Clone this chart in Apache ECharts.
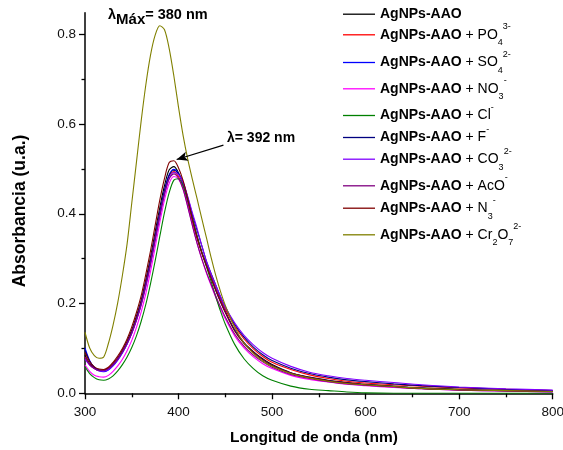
<!DOCTYPE html>
<html>
<head>
<meta charset="utf-8">
<script src="https://cdn.jsdelivr.net/npm/echarts@6/dist/echarts.min.js"></script>
<style>
html,body{margin:0;padding:0;background:#fff;}
#chart{width:563px;height:450px;}
</style>
</head>
<body>
<div id="chart"></div>
<script>
// Wavelengths (nm)
var wavelengths = [300,305,310,315,320,325,330,335,340,345,350,355,360,365,370,375,380,385,390,395,400,405,410,415,420,425,430,435,440,445,450,460,470,480,490,500,520,540,560,580,600,630,660,700,750,800];

// Absorbance series (u.a.)
var agnps = [.085,.066,.056,.051,.051,.056,.066,.079,.096,.116,.141,.172,.207,.253,.303,.359,.414,.463,.498,.505,.491,.465,.424,.382,.344,.313,.286,.258,.230,.205,.182,.141,.113,.093,.077,.064,.046,.036,.029,.024,.020,.016,.012,.009,.006,.004];
var po4 = [.081,.064,.055,.051,.051,.056,.065,.078,.094,.113,.137,.167,.202,.246,.295,.349,.403,.451,.485,.494,.483,.460,.422,.382,.346,.313,.286,.259,.233,.209,.187,.150,.121,.099,.082,.069,.053,.041,.033,.027,.023,.019,.016,.012,.009,.006];
var so4 = [.101,.073,.057,.050,.048,.052,.061,.074,.090,.110,.134,.164,.199,.243,.292,.347,.402,.452,.487,.499,.490,.467,.428,.387,.349,.314,.284,.256,.229,.204,.181,.141,.112,.091,.075,.062,.045,.035,.028,.023,.019,.015,.011,.008,.006,.004];
var no3 = [.063,.049,.040,.037,.036,.040,.049,.061,.076,.095,.118,.147,.181,.222,.271,.325,.381,.431,.468,.483,.477,.454,.415,.373,.333,.298,.267,.239,.212,.188,.166,.128,.101,.081,.066,.055,.040,.031,.025,.020,.017,.013,.010,.007,.005,.003];
var cl = [.059,.044,.035,.030,.029,.032,.039,.050,.064,.081,.102,.128,.160,.198,.244,.295,.350,.403,.447,.475,.478,.462,.430,.389,.349,.313,.281,.248,.214,.182,.154,.109,.077,.055,.039,.029,.016,.009,.006,.003,.001,.000,.000,.000,.000,.000];
var f = [.096,.071,.058,.052,.051,.055,.064,.077,.093,.112,.136,.166,.201,.244,.293,.347,.401,.451,.486,.497,.489,.469,.435,.397,.362,.328,.293,.266,.240,.214,.192,.154,.125,.103,.086,.073,.056,.044,.036,.030,.026,.021,.017,.013,.009,.006];
var co3 = [.076,.063,.055,.050,.049,.053,.062,.075,.091,.110,.133,.162,.196,.237,.286,.340,.394,.443,.479,.492,.487,.469,.437,.401,.366,.328,.293,.265,.240,.215,.192,.157,.129,.108,.091,.078,.060,.047,.039,.033,.029,.024,.019,.014,.010,.007];
var aco = [.081,.064,.055,.051,.051,.055,.064,.076,.092,.111,.134,.163,.197,.240,.288,.342,.396,.444,.478,.489,.479,.454,.414,.372,.333,.299,.269,.242,.216,.192,.170,.132,.105,.085,.070,.058,.042,.033,.026,.021,.018,.014,.010,.007,.005,.003];
var n3 = [.091,.071,.059,.054,.053,.058,.069,.083,.100,.121,.148,.180,.217,.265,.317,.374,.431,.479,.514,.518,.502,.473,.432,.387,.347,.312,.283,.255,.228,.203,.180,.139,.111,.091,.075,.062,.045,.035,.028,.023,.019,.015,.011,.008,.006,.004];
var cr2o7 = [.136,.101,.084,.078,.081,.111,.152,.202,.263,.333,.424,.515,.606,.687,.753,.798,.819,.810,.768,.707,.637,.573,.520,.475,.432,.388,.345,.301,.261,.226,.196,.147,.112,.089,.072,.060,.044,.034,.027,.022,.019,.015,.011,.008,.006,.004];

var seriesNames = ['AgNPs-AAO','AgNPs-AAO + PO4','AgNPs-AAO + SO4','AgNPs-AAO + NO3','AgNPs-AAO + Cl','AgNPs-AAO + F','AgNPs-AAO + CO3','AgNPs-AAO + AcO','AgNPs-AAO + N3','AgNPs-AAO + Cr2O7'];
var seriesColors = ['#000000','#ff0000','#0000ff','#ff00ff','#008000','#000080','#8000ff','#800080','#800000','#808000'];
var seriesValues = [agnps, po4, so4, no3, cl, f, co3, aco, n3, cr2o7];
var legendLabels = [
  '{b|AgNPs-AAO}{sup| }',
  '{b|AgNPs-AAO}{n| + PO}{sub|4}{sup|3-}',
  '{b|AgNPs-AAO}{n| + SO}{sub|4}{sup|2-}',
  '{b|AgNPs-AAO}{n| + NO}{sub|3}{sup|-}',
  '{b|AgNPs-AAO}{n| + Cl}{sup|-}',
  '{b|AgNPs-AAO}{n| + F}{sup|-}',
  '{b|AgNPs-AAO}{n| + CO}{sub|3}{sup|2-}',
  '{b|AgNPs-AAO}{n| + AcO}{sup|-}',
  '{b|AgNPs-AAO}{n| + N}{sub|3}{sup|-}',
  '{b|AgNPs-AAO}{n| + Cr}{sub|2}{n|O}{sub|7}{sup|2-}'
];
var legendRowY = [12.7, 33.3, 61, 87.3, 114, 136, 157.7, 184.3, 206.7, 233.3];

var xTicks = [300,400,500,600,700,800];
var yLabelTicks = [0,0.2,0.4,0.6,0.8];
var yMinorTicks = [0.1,0.3,0.5,0.7];

// annotation arrow (data coords): start -> tip
var arrowStart = [448, 0.553];
var arrowTip = [398, 0.521];

var FONT = 'Liberation Sans, Arial, sans-serif';
var rich = {
  b: {fontFamily: FONT, fontWeight: 'bold', fontSize: 14, lineHeight: 25, color: '#000'},
  n: {fontFamily: FONT, fontSize: 14, lineHeight: 25, color: '#000'},
  sub: {fontFamily: FONT, fontSize: 9, lineHeight: 9, verticalAlign: 'bottom', color: '#000'},
  sup: {fontFamily: FONT, fontSize: 9, lineHeight: 15, verticalAlign: 'top', color: '#000'}
};

var series = seriesNames.map(function (name, k) {
  var s = {
    name: name,
    type: 'line',
    xAxisIndex: 0,
    yAxisIndex: 0,
    showSymbol: false,
    symbol: 'none',
    smooth: 0.3,
    silent: true,
    color: seriesColors[k],
    lineStyle: {width: 1.1, color: seriesColors[k]},
    data: wavelengths.map(function (w, i) { return [w, seriesValues[k][i]]; })
  };
  if (k === 0) {
    s.markLine = {
      silent: true,
      symbol: ['none', 'arrow'],
      symbolSize: [7, 11],
      lineStyle: {color: '#000', width: 1.2, type: 'solid'},
      label: {show: false},
      data: [[{coord: arrowStart}, {coord: arrowTip}]]
    };
  }
  return s;
});

var legends = seriesNames.map(function (name, k) {
  return {
    data: [name],
    left: 343,
    top: legendRowY[k] - 11,
    padding: 0,
    itemGap: 0,
    icon: 'rect',
    itemWidth: 32,
    itemHeight: 1.3,
    selectedMode: false,
    formatter: function () { return legendLabels[k]; },
    textStyle: {rich: rich, fontFamily: FONT, fontSize: 14, color: '#000'}
  };
});

var chart = echarts.init(document.getElementById('chart'), null, {renderer: 'canvas'});
chart.setOption({
  animation: false,
  backgroundColor: '#fff',
  grid: {left: 85, right: 10.3, top: 12.7, bottom: 56.7, containLabel: false, outerBoundsMode: 'none'},
  legend: legends,
  xAxis: [{
    type: 'value', min: 300, max: 800, interval: 100,
    axisLine: {show: true, onZero: false, lineStyle: {color: '#000', width: 1.5}},
    axisTick: {show: true, length: 6, inside: false, lineStyle: {color: '#000', width: 1.3}},
    minorTick: {show: true, splitNumber: 2, length: 4, lineStyle: {color: '#000', width: 1.3}},
    axisLabel: {fontFamily: FONT, fontSize: 13.5, color: '#111', margin: 12, customValues: xTicks},
    splitLine: {show: false}
  }],
  yAxis: [{
    type: 'value', min: 0, max: 0.848,
    axisLine: {show: true, onZero: false, lineStyle: {color: '#000', width: 1.5}},
    axisTick: {show: true, length: 6, inside: false, customValues: yLabelTicks, lineStyle: {color: '#000', width: 1.3}},
    axisLabel: {fontFamily: FONT, fontSize: 13.5, color: '#111', margin: 9, customValues: yLabelTicks,
      formatter: function (v) { return v.toFixed(1); }},
    splitLine: {show: false}
  }, {
    type: 'value', min: 0, max: 0.848, position: 'left',
    axisLine: {show: false},
    axisTick: {show: true, length: 3.5, inside: false, customValues: yMinorTicks, lineStyle: {color: '#000', width: 1.3}},
    axisLabel: {show: false},
    splitLine: {show: false}
  }],
  graphic: [
    {type: 'text', x: 314, y: 437.5, silent: true,
      style: {text: 'Longitud de onda (nm)', fontFamily: FONT, fontWeight: 'bold', fontSize: 15.5, fill: '#000', align: 'center', verticalAlign: 'middle'}},
    {type: 'text', x: 20, y: 211, rotation: Math.PI / 2, silent: true,
      style: {text: 'Absorbancia (u.a.)', fontFamily: FONT, fontWeight: 'bold', fontSize: 17.5, fill: '#000', align: 'center', verticalAlign: 'middle'}},
    {type: 'text', x: 227, y: 138.5, silent: true,
      style: {text: 'λ= 392 nm', fontFamily: FONT, fontWeight: 'bold', fontSize: 14, fill: '#000', align: 'left', verticalAlign: 'middle'}},
    {type: 'text', x: 108, y: 15, silent: true,
      style: {text: '{a|λ}{s|Máx}{a|= 380 nm}', align: 'left', verticalAlign: 'middle',
        rich: {
          a: {fontFamily: FONT, fontWeight: 'bold', fontSize: 14.5, lineHeight: 24, fill: '#000', color: '#000'},
          s: {fontFamily: FONT, fontWeight: 'bold', fontSize: 15, lineHeight: 12, verticalAlign: 'bottom', fill: '#000', color: '#000'}
        }}}
  ],
  series: series
});
</script>
</body>
</html>
